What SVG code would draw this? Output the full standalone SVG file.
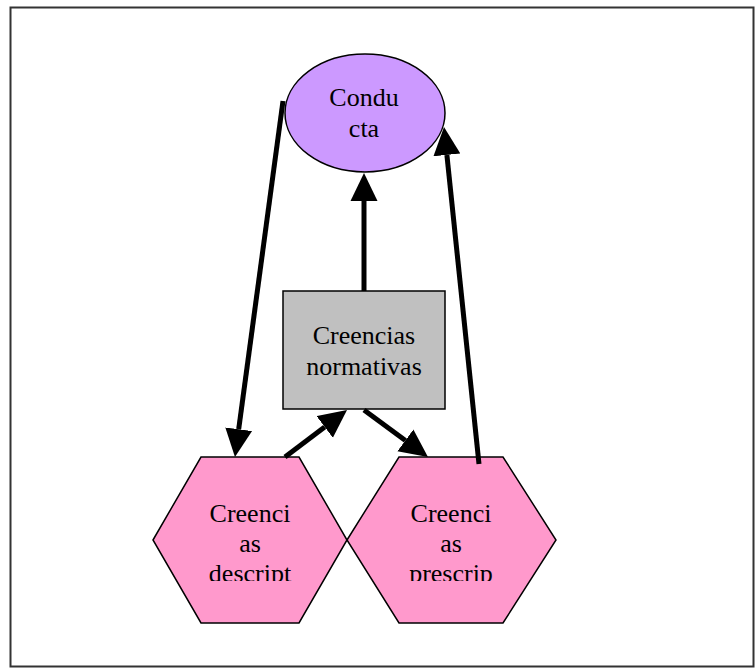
<svg xmlns="http://www.w3.org/2000/svg" width="755" height="668" viewBox="0 0 755 668">
<style>
.lbl{font-family:"Liberation Serif","Times New Roman",serif;font-size:26px;fill:#000;text-anchor:middle}
.edge{stroke:#000;stroke-width:5;fill:none}
.node{stroke:#000;stroke-width:1.5}
</style>
<defs>
<marker id="ah" markerUnits="userSpaceOnUse" markerWidth="28" markerHeight="28" refX="0" refY="13.5" orient="auto" viewBox="0 0 28 27">
<path d="M0,0 L28,13.5 L0,27 z" fill="#000"/>
</marker>
<clipPath id="clipL"><rect x="150" y="457" width="200" height="124"/></clipPath>
<clipPath id="clipR"><rect x="350" y="457" width="210" height="124"/></clipPath>
</defs>
<rect x="10.5" y="7.5" width="743" height="659" fill="#fff" stroke="#333" stroke-width="2"/>
<g id="conducta">
<ellipse class="node" cx="365" cy="113" rx="80" ry="59" fill="#cc99ff"/>
<text class="lbl" x="364" y="106">Condu</text>
<text class="lbl" x="364" y="137">cta</text>
</g>
<g id="normativas">
<rect class="node" x="283" y="291" width="162" height="118" fill="#c0c0c0" stroke="#333"/>
<text class="lbl" x="364" y="344">Creencias</text>
<text class="lbl" x="364" y="375">normativas</text>
</g>
<g id="descriptivas">
<polygon class="node" points="153,540 201,457 299,457 347,540 299,623 201,623" fill="#ff99cc"/>
<g clip-path="url(#clipL)">
<text class="lbl" x="250" y="522">Creenci</text>
<text class="lbl" x="250" y="552">as</text>
<text class="lbl" x="250" y="582">descript</text>
</g>
</g>
<g id="prescriptivas">
<polygon class="node" points="347,540 399,457 503,457 556,540 503,623 399,623" fill="#ff99cc"/>
<g clip-path="url(#clipR)">
<text class="lbl" x="451" y="522">Creenci</text>
<text class="lbl" x="451" y="552">as</text>
<text class="lbl" x="451" y="582">prescrip</text>
</g>
</g>
<g id="connectors">
<line class="edge" x1="283" y1="101" x2="238.7" y2="429.2" marker-end="url(#ah)"/>
<line class="edge" x1="285" y1="457" x2="324.7" y2="426.9" marker-end="url(#ah)"/>
<line class="edge" x1="364" y1="410" x2="405.4" y2="440.4" marker-end="url(#ah)"/>
<line class="edge" x1="479" y1="464" x2="446.9" y2="154.9" marker-end="url(#ah)"/>
<line class="edge" x1="364" y1="291" x2="364" y2="201" marker-end="url(#ah)"/>
</g>
</svg>
